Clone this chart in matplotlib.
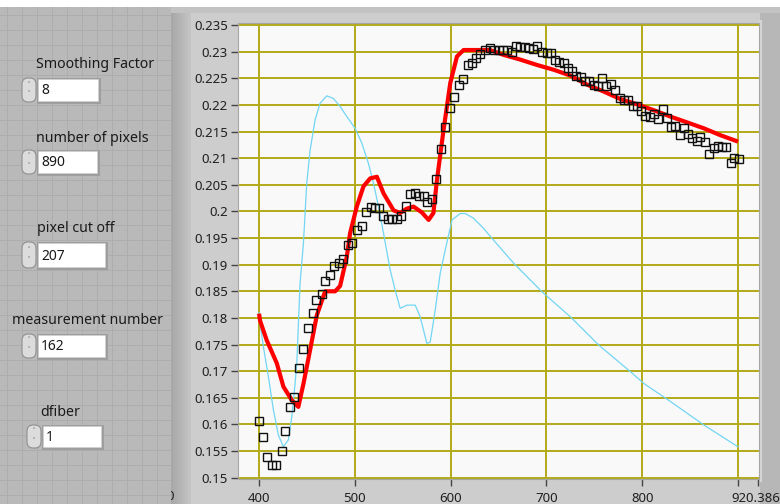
import matplotlib.pyplot as plt
import matplotlib.patches as mpatches
import matplotlib.transforms as mtransforms
from matplotlib.ticker import FuncFormatter

plt.rcParams['font.family'] = ['Noto Sans', 'DejaVu Sans']

W, H = 780, 504

# fitted curve (red)
fit_x = [400, 401, 408, 418.5, 425.4, 434, 441, 446.4, 453.3, 460.3, 469, 479.4,
         484.6, 491.6, 495, 502, 509, 516, 523, 529.9, 540.4, 547.3, 554, 561.2,
         570, 577, 582, 585.7, 592.6, 599.6, 606.6, 613.5, 641, 655, 672.7, 690,
         707.5, 725, 742.4, 759.8, 777, 794.7, 812, 829.5, 847, 864.3, 881.7, 900]
fit_y = [0.1808, 0.1795, 0.1758, 0.1715, 0.1671, 0.1646, 0.1633, 0.1677, 0.1740,
         0.1805, 0.1850, 0.1850, 0.1860, 0.1915, 0.1959, 0.2009, 0.2047, 0.2062,
         0.2065, 0.2034, 0.2002, 0.1997, 0.2005, 0.2009, 0.1998, 0.1984, 0.1997,
         0.2059, 0.2153, 0.2241, 0.2291, 0.2303, 0.2303, 0.2294, 0.2285, 0.2275,
         0.2266, 0.2255, 0.2238, 0.2225, 0.2211, 0.2201, 0.2190, 0.2178, 0.2167,
         0.2156, 0.2143, 0.2131]

# measured points (black squares)
meas_x = [399.7, 403.9, 408.7, 413.9, 418.1, 423.7, 427.5, 432.7, 436.6, 441.8,
          445.6, 450.9, 456.1, 459.9, 465.5, 469.3, 474.5, 478.1, 483.6, 487.5,
          492.7, 496.9, 502.1, 507.3, 511.5, 516.7, 521.2, 525.7, 529.9, 534.5,
          539.0, 543.9, 548.1, 553.3, 557.1, 562.3, 566.5, 571.7, 575.5, 580.8,
          584.6, 589.9, 593.7, 599.3, 603.4, 608.7, 613.2, 618.1, 622.5, 626.8,
          630.9, 636.2, 640.7, 645.6, 650.5, 655.0, 659.2, 663.7, 667.9, 672.8,
          677.3, 681.9, 686.3, 690.5, 695.4, 700.2, 704.4, 709.0, 713.2, 718.0,
          722.6, 727.1, 731.2, 735.7, 740.3, 744.8, 749.3, 753.9, 758.4, 762.6,
          767.1, 771.3, 776.5, 781.1, 785.6, 790.1, 794.3, 798.9, 803.4, 807.9,
          812.5, 816.7, 821.4, 825.6, 830.2, 834.7, 838.9, 843.8, 848.0, 852.2,
          856.7, 860.8, 866.0, 869.9, 874.4, 878.9, 883.1, 887.3, 892.5, 896.3,
          900.5]
meas_y = [0.1607, 0.1576, 0.1539, 0.1524, 0.1524, 0.1551, 0.1588, 0.1633, 0.1652,
          0.1706, 0.1742, 0.1782, 0.1810, 0.1834, 0.1845, 0.1869, 0.1881, 0.1898,
          0.1903, 0.1911, 0.1936, 0.1940, 0.1965, 0.1973, 0.1999, 0.2008, 0.2006,
          0.2006, 0.1991, 0.1985, 0.1985, 0.1985, 0.1991, 0.2011, 0.2032, 0.2034,
          0.2028, 0.2029, 0.2018, 0.2023, 0.2060, 0.2117, 0.2159, 0.2195, 0.2214,
          0.2237, 0.2248, 0.2275, 0.2278, 0.2288, 0.2296, 0.2303, 0.2306, 0.2303,
          0.2303, 0.2303, 0.2303, 0.2300, 0.2311, 0.2308, 0.2308, 0.2307, 0.2305,
          0.2311, 0.2299, 0.2297, 0.2297, 0.2285, 0.2280, 0.2278, 0.2270, 0.2264,
          0.2254, 0.2253, 0.2244, 0.2244, 0.2237, 0.2236, 0.2250, 0.2235, 0.2239,
          0.2228, 0.2213, 0.2209, 0.2209, 0.2197, 0.2197, 0.2188, 0.2179, 0.2178,
          0.2183, 0.2174, 0.2192, 0.2175, 0.2159, 0.2161, 0.2143, 0.2157, 0.2145,
          0.2138, 0.2133, 0.2140, 0.2131, 0.2108, 0.2119, 0.2122, 0.2120, 0.2120,
          0.2091, 0.2100, 0.2098]

# reference spectrum (cyan)
ref_x = [400, 401, 404.5, 409.7, 415, 420.2, 425.4, 430.6, 434.2, 437.6, 439.4,
         442.8, 446.3, 449.8, 453.3, 458.5, 463.7, 470.7, 477.6, 484.6, 491.6,
         500.3, 507.3, 514.2, 519.4, 524.7, 529.9, 536.9, 542.1, 547.3, 554.3,
         563, 568.2, 575.2, 578.7, 583.9, 589.1, 594.4, 601.4, 610, 615.3, 624,
         634.4, 644.8, 665.7, 695.4, 725, 754.6, 787.7, 801.6, 829.5, 864.3, 900]
ref_y = [0.1810, 0.1790, 0.1746, 0.1690, 0.1627, 0.1580, 0.1558, 0.1571, 0.1615,
         0.1677, 0.1715, 0.1865, 0.1940, 0.2053, 0.2115, 0.2172, 0.2203, 0.2217,
         0.2212, 0.2197, 0.2178, 0.2156, 0.2128, 0.2090, 0.2053, 0.2009, 0.1959,
         0.1890, 0.1852, 0.1818, 0.1824, 0.1824, 0.1802, 0.1752, 0.1755, 0.1815,
         0.1884, 0.1928, 0.1984, 0.1996, 0.1996, 0.1987, 0.1968, 0.1946, 0.1903,
         0.1849, 0.1802, 0.1749, 0.1699, 0.1677, 0.1643, 0.1599, 0.1558]

y_ticks = [0.15, 0.155, 0.16, 0.165, 0.17, 0.175, 0.18, 0.185, 0.19, 0.195,
           0.2, 0.205, 0.21, 0.215, 0.22, 0.225, 0.23, 0.235]
x_ticks = [400, 500, 600, 700, 800, 900]
x_labels = ['400', '500', '600', '700', '800', '']
x_end = 920.386

controls = [
    ('Smoothing Factor', '8'),
    ('number of pixels', '890'),
    ('pixel cut off', '207'),
    ('measurement number', '162'),
    ('dfiber', '1'),
]


def px(x, y):
    return x / W, 1 - y / H


def rect_px(fig, x0, y0, x1, y1, **kw):
    r = mpatches.Rectangle(px(x0, y1), (x1 - x0) / W, (y1 - y0) / H,
                           transform=fig.transFigure, **kw)
    fig.patches.append(r)
    return r


fig = plt.figure(figsize=(W / 100, H / 100), dpi=100, facecolor='#cdcdcd')

# frame of the graph (kept under the axes so tick labels stay on top)
rect_px(fig, 171, 7, 780, 13, facecolor='#c3c3c3', edgecolor='none', zorder=-2)
for i in range(10):
    shade = 0xa8 + i * 3
    rect_px(fig, 171 + i * 2, 13, 173 + i * 2, 504,
            facecolor='#{0:02x}{0:02x}{0:02x}'.format(shade), edgecolor='none', zorder=-2)
rect_px(fig, 760, 13, 780, 504, facecolor='#b7b7b7', edgecolor='none', zorder=-2)
rect_px(fig, 759, 20, 762, 482, facecolor='#d6d6d6', edgecolor='none', zorder=-1.9)
rect_px(fig, 0, 0, 780, 7, facecolor='white', edgecolor='none', zorder=-1.9)

ax = fig.add_axes([237.7 / W, 1 - 479.3 / H, (759.3 - 237.7) / W, (479.3 - 22.7) / H])
ax.set_facecolor('#f9f9f9')
ax.set_xlim(377.7, 922.2)
ax.set_ylim(0.1497, 0.23543)

ax.plot(ref_x, ref_y, color='#72d6f4', linewidth=0.9, zorder=3)
ax.plot(fit_x, fit_y, color='#ff0000', linewidth=3.0, solid_capstyle='butt', zorder=4)
ax.plot(meas_x, meas_y, linestyle='none', marker='s', markersize=5.2,
        markerfacecolor='none', markeredgecolor='#111111', markeredgewidth=1.0, zorder=5)

ax.set_yticks(y_ticks)
ax.yaxis.set_major_formatter(FuncFormatter(lambda v, p: '{:g}'.format(round(v, 3))))
ax.set_xticks(x_ticks)
ax.set_xticklabels(x_labels)
ax.set_xticks([x_end], minor=True)
ax.set_xticklabels(['920.386'], minor=True)
ax.grid(True, which='major', color='#b3aa18', linewidth=1.4)
ax.set_axisbelow(True)
ax.tick_params(axis='both', which='both', direction='out', length=5, width=1,
               colors='#444444', labelcolor='#202020', labelsize=9.5)
ax.tick_params(axis='y', pad=2)
ax.tick_params(axis='x', which='both', pad=4)
for s in ax.spines.values():
    s.set_color('#a6a6a6')
    s.set_linewidth(0.8)

# keep the end label inside the window
shift = mtransforms.ScaledTranslation(-2 / 100, 0, fig.dpi_scale_trans)
for lab in ax.get_xticklabels(minor=True):
    lab.set_transform(lab.get_transform() + shift)

# cut-off axis label peeking out from behind the control panel
fig.text(166 / W, 1 - 497 / H, '0', fontsize=9.5, color='#202020',
         ha='left', va='center', zorder=0.5)

# control panel on the left
rect_px(fig, 0, 7, 171, 504, facecolor='#b9b9b9', edgecolor='none', zorder=1)
for gx in range(7, 171, 15):
    rect_px(fig, gx, 7, gx + 1, 504, facecolor='#adadad', edgecolor='none', zorder=1.1)
for gy in range(15, 504, 15):
    rect_px(fig, 0, gy, 171, gy + 1, facecolor='#adadad', edgecolor='none', zorder=1.1)

layout = [
    # label x, label y, box x0, box x1, box y0, box y1
    (36, 64, 38, 98, 79, 101),
    (36, 138, 38, 97, 151, 173),
    (37, 229, 38, 105, 243, 267),
    (12, 321, 38, 105, 335, 357),
    (40, 412, 43, 101, 426, 447),
]
for (name, val), (lx, ly, bx0, bx1, by0, by1) in zip(controls, layout):
    fig.text(*px(lx, ly), name, fontsize=10.2, color='#1a1a1a', ha='left',
             va='center', zorder=3)
    rect_px(fig, bx0 - 1, by0 - 1, bx1 + 3, by1 + 3, facecolor='#9e9e9e',
            edgecolor='none', zorder=2)
    rect_px(fig, bx0, by0, bx1, by1, facecolor='white', edgecolor='#d0d0d0',
            linewidth=0.5, zorder=2.1)
    fig.text(*px(bx0 + 3, (by0 + by1) / 2 + 1), val, fontsize=10, color='#1a1a1a',
             ha='left', va='center', zorder=3)
    # spinner
    sx0, sx1 = bx0 - 16, bx0 - 2
    sy0, sy1 = by0 - 1, by1 + 1
    sp = mpatches.FancyBboxPatch(px(sx0, sy1), (sx1 - sx0) / W, (sy1 - sy0) / H,
                                 boxstyle='round,pad=0,rounding_size=0.008',
                                 transform=fig.transFigure, facecolor='#dcdcdc',
                                 edgecolor='#8f8f8f', linewidth=0.8, zorder=2.2,
                                 mutation_aspect=W / H)
    fig.patches.append(sp)
    cx = (sx0 + sx1) / 2
    cy = (sy0 + sy1) / 2
    fig.text(*px(cx, cy - 5), '\u02c4', fontsize=6, color='#555555',
             ha='center', va='center', zorder=3)
    fig.text(*px(cx, cy + 5), '\u02c5', fontsize=6, color='#555555',
             ha='center', va='center', zorder=3)

fig.savefig('out.png', dpi=100, facecolor=fig.get_facecolor())
